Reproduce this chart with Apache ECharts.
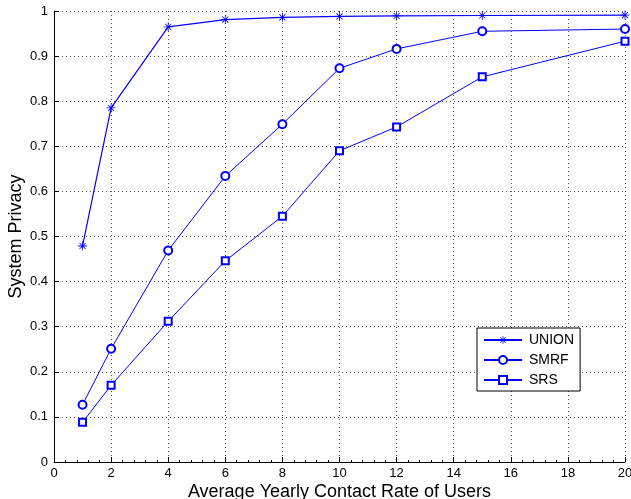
<!DOCTYPE html>
<html>
<head>
<meta charset="utf-8">
<script src="https://cdn.jsdelivr.net/npm/echarts@6/dist/echarts.min.js"></script>
<style>
  html, body { margin: 0; padding: 0; background: #fff; }
  #chart { width: 631px; height: 499px; }
</style>
</head>
<body>
<div id="chart"></div>
<script>
const contactRates = [1, 2, 4, 6, 8, 10, 12, 15, 20];
const unionValues = [0.479, 0.785, 0.965, 0.981, 0.986, 0.988, 0.989, 0.990, 0.991];
const smrfValues = [0.127, 0.251, 0.469, 0.634, 0.749, 0.873, 0.916, 0.955, 0.960];
const srsValues = [0.088, 0.170, 0.312, 0.446, 0.545, 0.690, 0.743, 0.854, 0.933];
const seriesNames = ["UNION", "SMRF", "SRS"];

const blue = "#0000ff";
const font = "Liberation Sans";

// asterisk marker made from thin bars: + and x
const asterisk =
  "path://M9.1 0L10.9 0L10.9 20L9.1 20Z" +
  "M0 9.1L20 9.1L20 10.9L0 10.9Z" +
  "M2.6 3.9L3.9 2.6L17.4 16.1L16.1 17.4Z" +
  "M16.1 2.6L17.4 3.9L3.9 17.4L2.6 16.1Z";

const pairs = (ys) => contactRates.map((x, i) => [x, ys[i]]);

const chart = echarts.init(document.getElementById("chart"));
chart.setOption({
  animation: false,
  backgroundColor: "#fff",
  grid: { left: 54, right: 6, top: 11, bottom: 37, outerBoundsMode: "none", containLabel: false },
  legend: {
    orient: "vertical",
    left: 477,
    top: 328,
    width: 103,
    padding: [5, 6, 4, 6],
    itemGap: 6,
    itemWidth: 38,
    itemHeight: 10,
    borderColor: "#000",
    borderWidth: 1,
    borderRadius: 0,
    backgroundColor: "#fff",
    textStyle: { fontFamily: font, fontSize: 14, color: "#000", padding: [0, 0, 0, 2] },
    data: seriesNames
  },
  xAxis: {
    type: "value",
    min: 0,
    max: 20,
    interval: 2,
    name: "Average Yearly Contact Rate of Users",
    nameLocation: "middle",
    nameGap: 21,
    nameMoveOverlap: false,
    nameTextStyle: { fontFamily: font, fontSize: 18, color: "#000" },
    axisLine: { onZero: false, lineStyle: { color: "#000", width: 1 } },
    axisTick: { inside: true, length: 5, lineStyle: { color: "#000" } },
    minorTick: { show: true, splitNumber: 5, length: 2, lineStyle: { color: "#000" } },
    axisLabel: { fontFamily: font, fontSize: 13, color: "#000", margin: 5 },
    splitLine: { show: true, lineStyle: { color: "#555", type: [1, 3], width: 1 } }
  },
  yAxis: {
    type: "value",
    min: 0,
    max: 1,
    interval: 0.1,
    name: "System Privacy",
    nameLocation: "middle",
    nameGap: 29,
    nameMoveOverlap: false,
    nameTextStyle: { fontFamily: font, fontSize: 18, color: "#000" },
    axisLine: { show: true, onZero: false, lineStyle: { color: "#000", width: 1 } },
    axisTick: { show: true, inside: true, length: 5, lineStyle: { color: "#000" } },
    axisLabel: {
      fontFamily: font, fontSize: 13, color: "#000", margin: 6,
      formatter: (v) => (v === 0 || v === 1 ? String(v) : v.toFixed(1))
    },
    splitLine: { show: true, lineStyle: { color: "#555", type: [1, 3], width: 1 } }
  },
  series: [
    {
      name: seriesNames[0],
      type: "line",
      data: pairs(unionValues),
      symbol: asterisk,
      symbolSize: 9,
      color: blue,
      lineStyle: { color: blue, width: 1.2 },
      itemStyle: { color: blue, borderWidth: 0 }
    },
    {
      name: seriesNames[1],
      type: "line",
      data: pairs(smrfValues),
      symbol: "emptyCircle",
      symbolSize: 8,
      color: blue,
      lineStyle: { color: blue, width: 1 },
      itemStyle: { color: blue, borderColor: blue, borderWidth: 1 }
    },
    {
      name: seriesNames[2],
      type: "line",
      data: pairs(srsValues),
      symbol: "emptyRect",
      symbolSize: 7,
      color: blue,
      lineStyle: { color: blue, width: 1 },
      itemStyle: { color: blue, borderColor: blue, borderWidth: 1 }
    }
  ]
});
</script>
</body>
</html>
